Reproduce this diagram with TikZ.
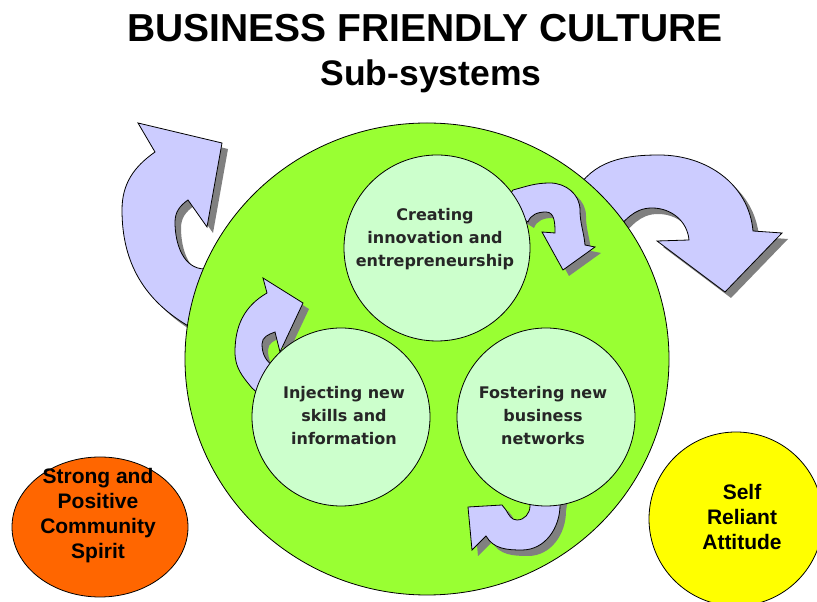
\documentclass[tikz,border=0pt]{standalone}
\usepackage{fontspec}
\setmainfont{Liberation Sans}
\newfontfamily\bubblefont{DejaVu Sans}
\usetikzlibrary{shapes.geometric}
\definecolor{culturegreen}{HTML}{99FF33}
\definecolor{bubblegreen}{HTML}{CCFFCC}
\definecolor{arrowblue}{HTML}{CCCCFF}
\definecolor{shadowgray}{HTML}{808080}
\definecolor{spiritorange}{HTML}{FF6600}
\definecolor{attitudeyellow}{HTML}{FFFF00}
\tikzset{
    outline/.style={draw=black, line width=0.8pt},
    subsystem/.style={outline, circle, fill=bubblegreen, minimum size=178pt, inner sep=0pt},
    subtext/.style={align=center, font=\bubblefont\bfseries\fontsize{16}{23}\selectfont, text=black!85},
    quality/.style={align=center, font=\bfseries\fontsize{21}{25}\selectfont},
    heading/.style={anchor=base, font=\bfseries\fontsize{39}{44}\selectfont},
    turn/.style={outline, fill=arrowblue},
    turnshadow/.style={fill=shadowgray, shift={(6,-6)}},
}
\newcommand{\turnarrow}[1]{%
    \fill[turnshadow] #1;
    \filldraw[turn] #1;
}
\begin{document}
\begin{tikzpicture}[x=1pt, y=1pt]
    \useasboundingbox (0,0) rectangle (817,602);
    \turnarrow{(190,275) to[out=150,in=-90] (122,392) to[out=90,in=215] (155,450) -- (138,479) -- (222,459) -- (207,375) -- (188,402) to[out=215,in=90] (175,380) to[out=-90,in=180] (205,333) -- (212,330) -- cycle}
    \turnarrow{(575,410) to[out=60,in=180] (659,447) to[out=0,in=95] (753,371) -- (782,369) -- (725,310) -- (657,361) -- (689,362) to[out=95,in=0] (652,394) to[out=180,in=45] (612,368) -- cycle}
    \node[outline, ellipse, fill=culturegreen, minimum width=484pt, minimum height=472pt, inner sep=0pt] (culture) at (427,243) {};
    \turnarrow{(505,400) -- (513,412) to[out=15,in=180] (550,419) to[out=0,in=90] (580,392) to[out=-90,in=95] (585,357) -- (595,355) -- (563,332) -- (542,370) -- (555,369) to[out=90,in=0] (546,390) to[out=180,in=70] (528,380) -- (520,385) -- cycle}
    \turnarrow{(262,205) -- (252,214) to[out=130,in=-90] (235,250) to[out=90,in=210] (267,309) -- (263,324) -- (303,299) -- (280,250) -- (275,270) to[out=200,in=90] (262,258) to[out=-90,in=150] (275,235) -- cycle}
    \turnarrow{(562,110) -- (560,97) to[out=-90,in=0] (522,52) to[out=180,in=-60] (486,66) -- (472,52) -- (468,95) -- (502,97) -- (506,92) to[out=-60,in=180] (517,82) to[out=0,in=-90] (530,96) -- (530,105) -- cycle}
    \node[subsystem, minimum size=186pt] (creating) at (437,354) {};
    \node[subsystem] (injecting) at (341,185) {};
    \node[subsystem] (fostering) at (546,185) {};
    \node[subtext] (creating-text) at (435,363) {Creating\\innovation and\\entrepreneurship};
    \node[subtext] (injecting-text) at (344,186) {Injecting new\\skills and\\information};
    \node[subtext] (fostering-text) at (543,186) {Fostering new\\business\\networks};
    \node[outline, ellipse, fill=spiritorange, minimum width=176pt, minimum height=140pt, inner sep=0pt] (spirit) at (100,75) {};
    \node[outline, circle, fill=attitudeyellow, minimum size=174pt, inner sep=0pt] (attitude) at (736,83) {};
    \node[quality] (spirit-text) at (98,86) {Strong and\\Positive\\Community\\Spirit};
    \node[quality] (attitude-text) at (742,85) {Self\\Reliant\\Attitude};
    \node[heading] (title) at (425,560) {BUSINESS FRIENDLY CULTURE};
    \node[heading, font=\bfseries\fontsize{35.5}{40}\selectfont] (subtitle) at (431,516) {Sub-systems};
\end{tikzpicture}
\end{document}
